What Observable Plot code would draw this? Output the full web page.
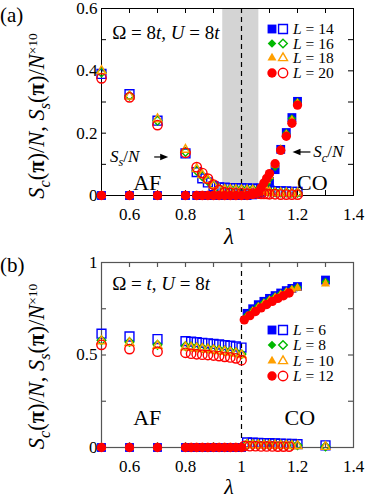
<!DOCTYPE html>
<html><head><meta charset="utf-8">
<script src="https://cdn.jsdelivr.net/npm/d3@7"></script>
<script src="https://cdn.jsdelivr.net/npm/@observablehq/plot@0.6"></script>
<style>
body{margin:0;background:#fff;}
#wrap{width:382px;}
svg{display:block;}
</style></head><body><div id="wrap"></div>
<script>
// ---------- Panel (a): Omega = 8t, U = 8t ----------
const lamA = [0.5,0.6,0.7,0.8,0.84,0.86,0.88,0.90,0.92,0.94,0.96,0.98,1.00,1.02,1.04,1.06,1.07,1.08,1.09,1.10,1.12,1.14,1.16,1.18,1.20];
const LA = [14,16,18,20];
// S_s(pi)/N x10 (open symbols)
const ssA14 = [0.39,0.325,0.24,0.135,0.075,0.055,0.042,0.03,0.026,0.025,0.024,0.024,0.023,0.023,0.022,0.022,0.021,0.02,0.018,0.016,0.014,0.013,0.013,0.012,0.012];
const ssA16 = [0.395,0.32,0.24,0.14,0.08,0.062,0.047,0.032,0.022,0.021,0.02,0.02,0.02,0.019,0.019,0.018,0.017,0.016,0.015,0.013,0.011,0.01,0.01,0.009,0.009];
const ssA18 = [0.40,0.318,0.245,0.147,0.085,0.066,0.05,0.033,0.019,0.018,0.018,0.017,0.017,0.016,0.016,0.015,0.014,0.013,0.012,0.01,0.008,0.008,0.007,0.007,0.007];
const ssA20 = [0.376,0.315,0.226,0.137,0.091,0.072,0.054,0.035,0.018,0.01,0.008,0.007,0.007,0.006,0.006,0.006,0.005,0.005,0.005,0.004,0.004,0.003,0.003,0.003,0.003];
// S_c(pi)/N (filled symbols)
const scA14 = [0,0,0,0,0,0,0,0,0,0,0,0,0,0,0.002,0.006,0.01,0.018,0.03,0.045,0.083,0.148,0.202,0.25,0.302];
const scA16 = [0,0,0,0,0,0,0,0,0,0,0,0,0,0,0.002,0.007,0.013,0.024,0.038,0.054,0.092,0.15,0.2,0.247,0.3];
const scA18 = [0,0,0,0,0,0,0,0,0,0,0,0,0,0,0.003,0.009,0.018,0.032,0.048,0.062,0.098,0.147,0.196,0.242,0.296];
const scA20 = [0,0,0,0,0,0,0,0,0,0,0,0,0,0,0.004,0.011,0.025,0.04,0.055,0.07,0.102,0.145,0.19,0.232,0.29];
const bandA = [0.933, 1.062];

// ---------- Panel (b): Omega = t, U = 8t ----------
const lamB = [0.5,0.6,0.7,0.8,0.82,0.84,0.86,0.88,0.90,0.92,0.94,0.96,0.98,1.00,1.02,1.04,1.06,1.08,1.10,1.12,1.14,1.16,1.18,1.20,1.30];
const lamB12 = [0.5,0.6,0.7,0.8,0.82,0.84,0.86,0.88,0.90,0.92,0.94,0.96,0.98,1.00,1.01,1.03,1.05,1.07,1.09,1.11,1.13,1.15,1.17];
const LB = [6,8,10,12];
const ssB6 = [0.615,0.6,0.586,0.575,0.572,0.569,0.566,0.563,0.56,0.557,0.553,0.55,0.546,0.54,0.027,0.026,0.025,0.024,0.023,0.022,0.021,0.02,0.019,0.018,0.012];
const ssB8 = [0.58,0.57,0.555,0.548,0.545,0.542,0.538,0.535,0.531,0.528,0.524,0.52,0.515,0.505,0.018,0.017,0.017,0.016,0.015,0.015,0.014,0.013,0.013,0.012,0.006];
const ssB10 = [0.575,0.565,0.55,0.542,0.539,0.536,0.533,0.53,0.526,0.522,0.518,0.514,0.509,0.5,0.014,0.013,0.013,0.012,0.011,0.011,0.01,0.01,0.009,0.009,0.004];
const ssB12 = [0.555,0.532,0.518,0.512,0.507,0.504,0.502,0.5,0.497,0.494,0.49,0.487,0.482,0.472,0.008,0.007,0.007,0.006,0.006,0.006,0.005,0.005,0.005];
const scB6 = [0,0,0,0,0,0,0,0,0,0,0,0,0,0,0.725,0.75,0.772,0.79,0.806,0.821,0.835,0.848,0.86,0.87,0.905];
const scB8 = [0,0,0,0,0,0,0,0,0,0,0,0,0,0,0.715,0.742,0.765,0.784,0.8,0.816,0.83,0.843,0.855,0.866,0.895];
const scB10 = [0,0,0,0,0,0,0,0,0,0,0,0,0,0,0.708,0.735,0.758,0.778,0.795,0.811,0.826,0.84,0.852,0.862,0.885];
const scB12 = [0,0,0,0,0,0,0,0,0,0,0,0,0,0,0.69,0.713,0.735,0.755,0.773,0.79,0.806,0.82,0.835];

// ---------- axes ----------
const xTickLabels = [0.6,0.8,1,1.2,1.4];
const xTickMarks = [0.6,0.7,0.8,0.9,1.0,1.1,1.2,1.3];
const yTickLabelsA = [0,0.2,0.4,0.6];
const yTickMarksA = [0.1,0.2,0.3,0.4,0.5];
const yTickLabelsB = [0,0.5,1];
const yTickMarksB = [0.25,0.5,0.75];

const colors = ["#0000ff","#00b800","#ff9f00","#ff0000"];
const symbols = [d3.symbolSquare, d3.symbolDiamond2, d3.symbolTriangle2, d3.symbolCircle];
const radii = [5, 3.9, 4.3, 4.7];

const FONT = "Liberation Serif";

function seriesMarks(lam, sc, ss, k) {
  const fil = lam.map((x, i) => ({x, y: sc[i]}));
  const opn = lam.map((x, i) => ({x, y: ss[i]}));
  return [
    Plot.dot(fil, {x: "x", y: "y", symbol: symbols[k], r: radii[k], fill: colors[k], stroke: "none"}),
    Plot.dot(opn, {x: "x", y: "y", symbol: symbols[k], r: radii[k], fill: "none", stroke: colors[k], strokeWidth: 1.4})
  ];
}

function panel(cfg) {
  const H = cfg.height - cfg.mt - cfg.mb;
  const Wd = 382 - cfg.ml - cfg.mr;
  const marks = [];
  if (cfg.band) marks.push(Plot.rect([cfg.band], {x1: d => d[0], x2: d => d[1], y1: () => cfg.yDomain[0], y2: () => cfg.yDomain[1], fill: "#d4d4d4"}));
  marks.push(Plot.ruleX([1], {stroke: "#000", strokeWidth: 1.2, strokeDasharray: "5,4"}));
  marks.push(Plot.frame({stroke: cfg.axisColor, strokeWidth: cfg.axisWidth}));
  marks.push(Plot.ruleX(xTickMarks, {x: d => d, insetTop: H - 5, stroke: cfg.axisColor, strokeWidth: cfg.axisWidth}));
  marks.push(Plot.ruleX(xTickMarks, {x: d => d, insetBottom: H - 5, stroke: cfg.axisColor, strokeWidth: cfg.axisWidth}));
  marks.push(Plot.ruleY(cfg.yMarks, {y: d => d, insetRight: Wd - 5, stroke: cfg.axisColor, strokeWidth: cfg.axisWidth}));
  marks.push(Plot.ruleY(cfg.yMarks, {y: d => d, insetLeft: Wd - 5, stroke: cfg.axisColor, strokeWidth: cfg.axisWidth}));
  marks.push(Plot.axisX(xTickLabels, {tickSize: 0, tickPadding: 12, tickFormat: d => String(d), label: null, fill: "#000"}));
  marks.push(Plot.axisY(cfg.yLabels, {tickSize: 0, tickPadding: 4, tickFormat: d => String(d), label: null, fill: "#000"}));
  cfg.series.forEach((s, k) => marks.push(...seriesMarks(s.lam, s.sc, s.ss, k)));
  return Plot.plot({
    width: 382, height: cfg.height,
    marginLeft: cfg.ml, marginRight: cfg.mr, marginTop: cfg.mt, marginBottom: cfg.mb,
    x: {domain: [0.5, 1.4]},
    y: {domain: cfg.yDomain},
    style: {fontFamily: FONT, fontSize: "17px", background: "#fff", overflow: "visible", color: "#000"},
    marks
  });
}

function mtext(svg, x, y, parts, o = {}) {
  const size = o.size || 17;
  const t = d3.select(svg).append("text")
    .attr("x", x).attr("y", y)
    .attr("font-family", FONT)
    .attr("font-size", size)
    .attr("text-anchor", o.anchor || "start")
    .attr("fill", "#000")
    .style("white-space", "pre");
  if (o.rotate) t.attr("transform", `rotate(${o.rotate},${x},${y})`);
  let shift = 0;
  for (const [s, st = ""] of parts) {
    const ts = t.append("tspan").text(s);
    let target = 0;
    if (st.includes("i")) ts.attr("font-style", "italic");
    if (st.includes("b")) ts.attr("font-weight", "bold");
    if (st.includes("_")) { ts.attr("font-size", size * 0.72); target = size * 0.25; }
    if (st.includes("^")) { ts.attr("font-size", size * 0.6); target = -size * 0.3; }
    if (target !== shift) { ts.attr("dy", target - shift); shift = target; }
  }
  return t;
}

function arrow(svg, x1, y1, x2, y2) {
  const g = d3.select(svg).append("g");
  const dir = Math.sign(x2 - x1);
  g.append("line").attr("x1", x1).attr("y1", y1).attr("x2", x2 - dir * 5).attr("y2", y2)
    .attr("stroke", "#000").attr("stroke-width", 1.2);
  g.append("path").attr("d", `M${x2},${y2}L${x2 - dir * 8},${y2 - 3.2}L${x2 - dir * 8},${y2 + 3.2}Z`).attr("fill", "#000");
}

function legend(svg, x0, ys, Ls) {
  ys.forEach((y, k) => {
    const s = d3.symbol(symbols[k], Math.PI * radii[k] * radii[k]);
    d3.select(svg).append("path").attr("d", s()).attr("transform", `translate(${x0},${y})`).attr("fill", colors[k]);
    d3.select(svg).append("path").attr("d", s()).attr("transform", `translate(${x0 + 11},${y})`)
      .attr("fill", "none").attr("stroke", colors[k]).attr("stroke-width", 1.4);
    mtext(svg, x0 + 21, y + 5, [["L", "i"], [" = ", ""], [String(Ls[k]), ""]], {size: 15.5});
  });
}

const yLabelParts = [["S","i"],["c","i_"],["(",""],["π","b"],[")/",""],["N","i"],[", ",""],["S","i"],["s","i_"],["(",""],["π","b"],[")/",""],["N","i"],["×10","^"]];

// ---- build panel (a)
const svgA = panel({
  height: 250, ml: 101, mr: 29, mt: 8, mb: 55,
  yDomain: [0, 0.6], yMarks: yTickMarksA, yLabels: yTickLabelsA,
  axisColor: "#000", axisWidth: 1, band: bandA,
  series: [
    {lam: lamA, sc: scA14, ss: ssA14},
    {lam: lamA, sc: scA16, ss: ssA16},
    {lam: lamA, sc: scA18, ss: ssA18},
    {lam: lamA, sc: scA20, ss: ssA20}
  ]
});
{
  const sx = svgA.scale("x"), sy = svgA.scale("y");
  mtext(svgA, 0, 22, [["(a)", ""]], {size: 21});
  mtext(svgA, 44, 116, yLabelParts, {size: 22.5, anchor: "middle", rotate: -90});
  mtext(svgA, 229, 244, [["λ", "i"]], {size: 23, anchor: "middle"});
  mtext(svgA, sx.apply(0.54), sy.apply(0.5), [["Ω",""],[" = ",""],["8",""],["t","i"],[", ",""],["U","i"],[" = ",""],["8",""],["t","i"]], {size: 19});
  mtext(svgA, sx.apply(0.665), sy.apply(0.016), [["AF", ""]], {size: 22, anchor: "middle"});
  mtext(svgA, sx.apply(1.255), sy.apply(0.016), [["CO", ""]], {size: 22, anchor: "middle"});
  mtext(svgA, sx.apply(0.532), sy.apply(0.106), [["S","i"],["s","i_"],["/",""],["N","i"]], {size: 17});
  arrow(svgA, sx.apply(0.69), sy.apply(0.122), sx.apply(0.74), sy.apply(0.122));
  mtext(svgA, sx.apply(1.258), sy.apply(0.121), [["S","i"],["c","i_"],["/",""],["N","i"]], {size: 17});
  arrow(svgA, sx.apply(1.248), sy.apply(0.138), sx.apply(1.184), sy.apply(0.138));
  legend(svgA, 272, [29, 43.5, 58, 73], LA);
}

// ---- build panel (b)
const svgB = panel({
  height: 250, ml: 101, mr: 29, mt: 12, mb: 53,
  yDomain: [0, 1], yMarks: yTickMarksB, yLabels: yTickLabelsB,
  axisColor: "#555", axisWidth: 1.2, band: null,
  series: [
    {lam: lamB, sc: scB6, ss: ssB6},
    {lam: lamB, sc: scB8, ss: ssB8},
    {lam: lamB, sc: scB10, ss: ssB10},
    {lam: lamB12, sc: scB12, ss: ssB12}
  ]
});
{
  const sx = svgB.scale("x"), sy = svgB.scale("y");
  mtext(svgB, 0, 22, [["(b)", ""]], {size: 21});
  mtext(svgB, 44, 116.5, yLabelParts, {size: 22.5, anchor: "middle", rotate: -90});
  mtext(svgB, 229, 244, [["λ", "i"]], {size: 22, anchor: "middle"});
  mtext(svgB, sx.apply(0.54), sy.apply(0.849), [["Ω",""],[" = ",""],["t","i"],[", ",""],["U","i"],[" = ",""],["8",""],["t","i"]], {size: 19});
  mtext(svgB, sx.apply(0.665), sy.apply(0.119), [["AF", ""]], {size: 22, anchor: "middle"});
  mtext(svgB, sx.apply(1.21), sy.apply(0.119), [["CO", ""]], {size: 22, anchor: "middle"});
  legend(svgB, 272, [80, 95, 111, 126], LB);
}

document.getElementById("wrap").append(svgA, svgB);
</script></body></html>
